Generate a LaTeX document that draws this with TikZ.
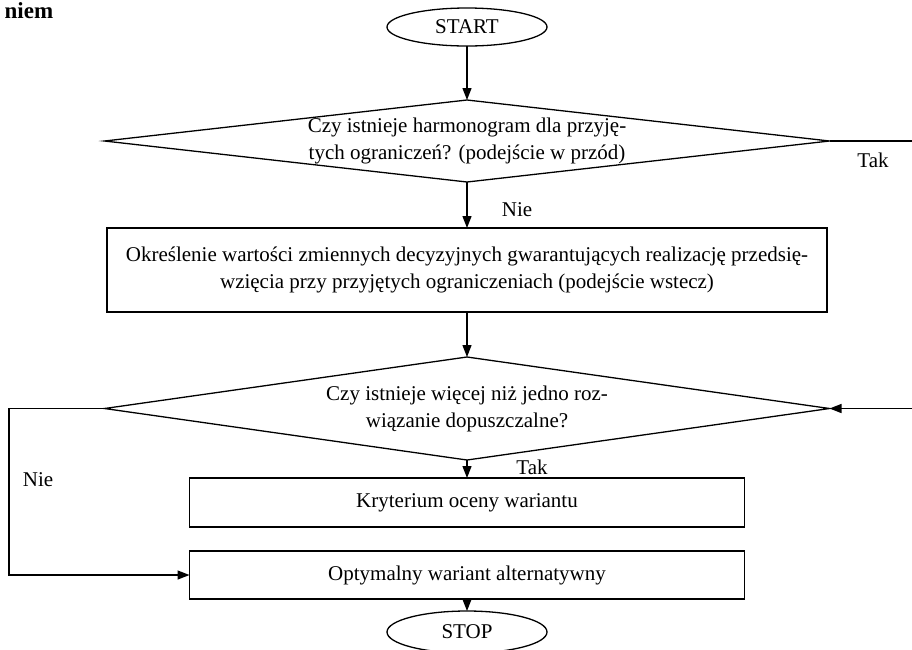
\documentclass[tikz,border=0pt]{standalone}
\usepackage{fontspec}
\setmainfont{Liberation Serif}
\usetikzlibrary{shapes,positioning,arrows.meta}

\begin{document}
\begin{tikzpicture}[x=1pt, y=-1pt, line width=1.3pt,
    font=\fontsize{21}{27}\selectfont,
    term/.style={draw, ellipse, minimum width=160pt, minimum height=38pt, inner sep=0pt, outer sep=0pt},
    decision/.style={draw, diamond, minimum width=725pt, minimum height=82pt, inner sep=0pt, outer sep=0pt},
    proc/.style={draw, rectangle, align=center, inner sep=0pt, outer sep=0pt},
    arr/.style={-{Triangle[length=12pt, width=9pt]}}
  ]
  \useasboundingbox (0,0) rectangle (912,649);
  \node[anchor=base west, inner sep=0pt, font=\fontsize{23}{27}\selectfont\bfseries] (head) at (4,18) {niem};
  \node[term] (start) at (467,27) {START};
  \node[decision, below=54pt of start] (q1) {};
  \node[align=center] (q1txt) at (q1) {Czy istnieje harmonogram dla przyję-\\tych ograniczeń? (podejście w przód)};
  \node[proc, below=46pt of q1, minimum width=720pt, minimum height=84pt] (box1)
    {Określenie wartości zmiennych decyzyjnych gwarantujących realizację przedsię-\\wzięcia przy przyjętych ograniczeniach (podejście wstecz)};
  \node[decision, below=45pt of box1, minimum height=103pt] (q2) {};
  \node[align=center] (q2txt) at (q2) {Czy istnieje więcej niż jedno roz-\\wiązanie dopuszczalne?};
  \node[proc, below=18pt of q2, minimum width=555pt, minimum height=49pt] (box2) {Kryterium oceny wariantu};
  \node[proc, below=24pt of box2, minimum width=555pt, minimum height=48pt] (box3) {Optymalny wariant alternatywny};
  \node[term, below=12pt of box3, minimum height=42pt] (stop) {STOP};

  % etykiety
  \node (tak1) at (873,160) {Tak};
  \node (nie1) at (517,210) {Nie};
  \node (tak2) at (532,467) {Tak};
  \node (nie2) at (38,480) {Nie};

  \coordinate (q1out) at (912,0);
  \coordinate (q2in) at (912,0);
  \coordinate (loop) at (9,0);

  \draw[arr] (start) -- (q1);
  \draw (q1.east) -- (q1.east -| q1out);
  \draw[arr] (q1) -- (box1);
  \draw[arr] (box1) -- (q2);
  \draw[arr] (q2.east -| q2in) -- (q2.east);
  \draw[arr] (q2) -- (box2);
  \draw[arr] (q2.west) -- (q2.west -| loop) -- (loop |- box3.west) -- (box3.west);
  \draw[arr] (box3) -- (stop);
\end{tikzpicture}
\end{document}
